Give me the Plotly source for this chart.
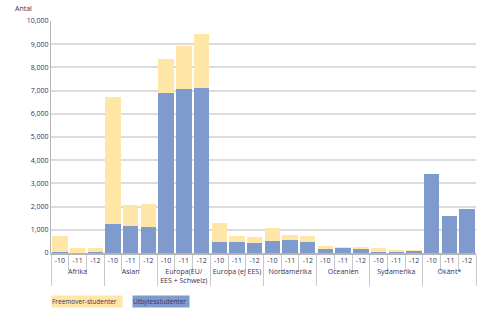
import plotly.graph_objects as go

groups = ["Afrika", "Asian", "Europa(EU/<br>EES + Schweiz)", "Europa (ej EES)",
          "Nordamerika", "Oceanien", "Sydamerika", "Okänt*"]
years = ["-10", "-11", "-12"]

utbyte = [30, 20, 60,
          1250, 1170, 1130,
          6900, 7080, 7120,
          480, 460, 430,
          520, 560, 480,
          170, 220, 210,
          60, 60, 100,
          3400, 1600, 1900]
totals = [730, 220, 220,
          6730, 2080, 2130,
          8350, 8940, 9430,
          1300, 740, 700,
          1090, 790, 750,
          310, 250, 250,
          220, 130, 125,
          3400, 1600, 1900]
freemover = [t - u for t, u in zip(totals, utbyte)]

x_outer = [g for g in groups for _ in years]
x_inner = [y for _ in groups for y in years]

text_col = "#3b2d5c"
yellow = "#FFE6A6"
blue = "#7F9BCD"

fig = go.Figure()
fig.add_trace(go.Bar(x=[x_outer, x_inner], y=utbyte, marker_color=blue,
                     marker_line_width=0, name="Utbytesstudenter"))
fig.add_trace(go.Bar(x=[x_outer, x_inner], y=freemover, marker_color=yellow,
                     marker_line_width=0, name="Freemover-studenter"))

fig.update_layout(
    barmode="stack",
    bargap=0.13,
    width=488, height=332,
    margin=dict(l=51, r=12, t=21, b=79),
    plot_bgcolor="white", paper_bgcolor="white",
    showlegend=False,
    font=dict(family="Open Sans", size=8, color=text_col),
)
fig.update_yaxes(range=[0, 10000], dtick=1000, tickformat=",",
                 gridcolor="#dcdcdc", gridwidth=1.5, zeroline=False,
                 showline=True, linecolor="#b5b5b5", linewidth=1,
                 ticks="", tickfont=dict(size=7, color=text_col))
fig.update_xaxes(type="multicategory", tickangle=0, showline=True, linecolor="#b5b5b5",
                 linewidth=1.5, ticks="outside", tickson="boundaries",
                 ticklen=16, tickcolor="#c8c8c8", tickwidth=1,
                 dividercolor="#c8c8c8", dividerwidth=1,
                 tickfont=dict(size=7, color=text_col))

fig.add_annotation(text="Antal", xref="paper", yref="paper", x=-0.09, y=1.056,
                   xanchor="left", yanchor="middle", showarrow=False,
                   font=dict(size=7, color=text_col))

fig.add_annotation(text="Freemover-studenter", xref="paper", yref="paper",
                   x=0.0, y=-0.18, xanchor="left", yanchor="top", showarrow=False,
                   bgcolor=yellow, width=70, height=11, align="left", borderpad=0,
                   font=dict(size=6.5, color=text_col))
fig.add_annotation(text="Utbytesstudenter", xref="paper", yref="paper",
                   x=0.19, y=-0.18, xanchor="left", yanchor="top", showarrow=False,
                   bgcolor=blue, width=56, height=11, align="left", borderpad=0,
                   font=dict(size=6.5, color=text_col))

fig.write_html("out.html")
